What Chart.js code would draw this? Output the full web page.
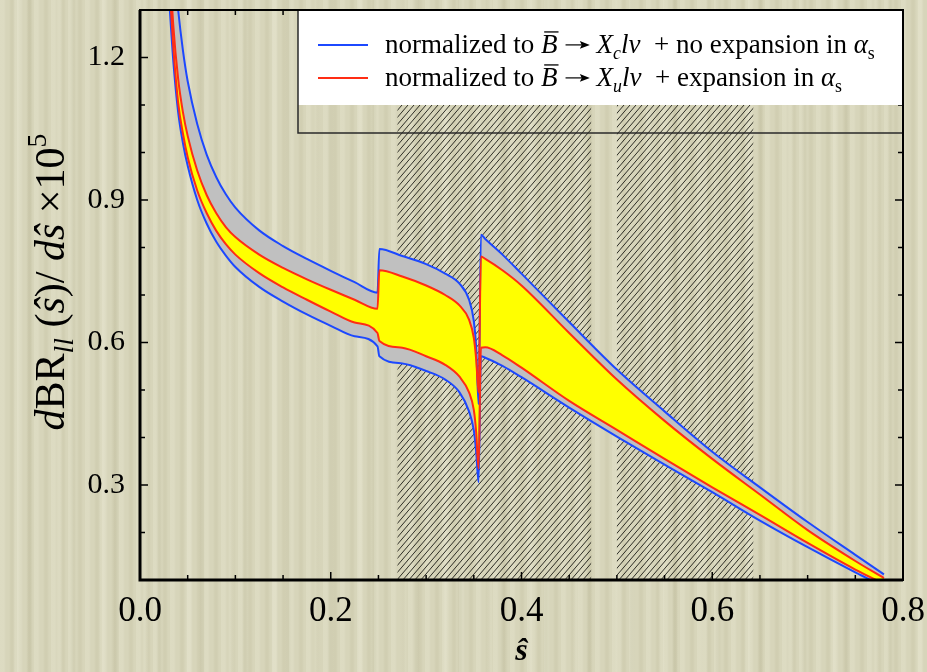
<!DOCTYPE html>
<html lang="en">
<head>
  <meta charset="UTF-8">
  <title>dBR_ll / ds</title>
  <script src="https://cdn.jsdelivr.net/npm/chart.js"></script>
  <style>
    html, body {
      margin: 0;
      padding: 0;
      overflow: hidden;
    }
    body {
      width: 927px;
      height: 672px;
      background-color: #d7d5ba;
      background-image:
        repeating-linear-gradient(90deg, rgba(255,255,240,0.14) 0px, rgba(255,255,240,0.14) 4px, rgba(0,0,0,0) 6px, rgba(0,0,0,0) 9px, rgba(110,100,50,0.06) 11px, rgba(110,100,50,0.06) 13px, rgba(0,0,0,0) 15px, rgba(0,0,0,0) 17px),
        repeating-linear-gradient(90deg, rgba(0,0,0,0) 0px, rgba(0,0,0,0) 13px, rgba(255,255,240,0.12) 15px, rgba(255,255,240,0.12) 18px, rgba(0,0,0,0) 20px, rgba(0,0,0,0) 27px, rgba(100,95,50,0.06) 29px, rgba(100,95,50,0.06) 31px, rgba(0,0,0,0) 33px, rgba(0,0,0,0) 43px);
    }
    canvas { display: block; }
  </style>
</head>
<body>
  <canvas id="chart" width="927" height="672"></canvas>

  <script>
    // s-hat grid shared by the four curves
    const sHat = [0.03, 0.035, 0.04, 0.045, 0.05, 0.06, 0.07, 0.08, 0.09, 0.1, 0.125, 0.15, 0.175, 0.2, 0.225, 0.249,
                  0.251, 0.275, 0.3, 0.32, 0.335, 0.345, 0.35, 0.3525, 0.355,
                  0.3575, 0.362, 0.38, 0.4, 0.45, 0.5, 0.55, 0.6, 0.65, 0.7, 0.75, 0.78];

    // normalized to B -> X_c l nu, no expansion in alpha_s (blue band)
    const blueUpper = [1.56, 1.41, 1.30, 1.215, 1.15, 1.06, 0.995, 0.948, 0.912, 0.884, 0.836, 0.803, 0.776, 0.751, 0.727, 0.705,
                       0.797, 0.782, 0.765, 0.745, 0.724, 0.69, 0.645, 0.59, 0.47,
                       0.827, 0.818, 0.785, 0.745, 0.643, 0.543, 0.455, 0.37, 0.295, 0.222, 0.153, 0.112];
    const blueLower = [1.34, 1.19, 1.085, 1.02, 0.972, 0.90, 0.85, 0.812, 0.783, 0.759, 0.717, 0.686, 0.659, 0.635, 0.613, 0.592,
                       0.571, 0.556, 0.54, 0.522, 0.495, 0.455, 0.415, 0.369, 0.306,
                       0.571, 0.568, 0.551, 0.527, 0.463, 0.402, 0.343, 0.285, 0.225, 0.169, 0.116, 0.086];

    // normalized to B -> X_u l nu, expansion in alpha_s (red band)
    const redUpper = [1.44, 1.265, 1.155, 1.085, 1.035, 0.962, 0.91, 0.872, 0.843, 0.822, 0.785, 0.757, 0.733, 0.711, 0.69, 0.671,
                      0.752, 0.739, 0.72, 0.70, 0.678, 0.648, 0.61, 0.564, 0.495,
                      0.781, 0.776, 0.752, 0.72, 0.62, 0.522, 0.435, 0.355, 0.28, 0.205, 0.14, 0.104];
    const redLower = [1.38, 1.22, 1.105, 1.04, 0.99, 0.92, 0.872, 0.835, 0.807, 0.785, 0.746, 0.716, 0.69, 0.665, 0.642, 0.620,
                      0.603, 0.589, 0.571, 0.553, 0.528, 0.495, 0.458, 0.411, 0.334,
                      0.589, 0.59, 0.573, 0.547, 0.477, 0.416, 0.355, 0.295, 0.237, 0.178, 0.122, 0.092];

    // hatched (vetoed) s-hat windows
    const vetoBands = [[0.27, 0.473], [0.5, 0.643]];

    const xTicks = [0.0, 0.2, 0.4, 0.6, 0.8];
    const yTicks = [0.3, 0.6, 0.9, 1.2];

    const BLUE = '#1c48ff';
    const RED = '#ff2d14';
    const SERIF = '"Liberation Serif", "Times New Roman", serif';

    const toPts = ys => sHat.map((s, i) => ({ x: s, y: ys[i] }));

    function hatchPattern(ctx) {
      const c = document.createElement('canvas');
      c.width = 6; c.height = 7;
      const g = c.getContext('2d');
      g.strokeStyle = '#1a1a14';
      g.lineWidth = 0.9;
      g.beginPath();
      g.moveTo(0, 7); g.lineTo(6, 0);
      g.moveTo(-1, 1.17); g.lineTo(1, -1.17);
      g.moveTo(5, 8.17); g.lineTo(7, 5.83);
      g.stroke();
      return ctx.createPattern(c, 'repeat');
    }

    // draws a run of text pieces (italic / sub / sup / overbar / arrow) from x, returns end x
    function drawRich(ctx, parts, x, y, size, measureOnly) {
      parts.forEach(p => {
        if (p.arrow) {
          const w = size * 1.45;
          if (!measureOnly) {
            const ay = y - size * 0.3;
            ctx.save();
            ctx.lineWidth = 1.2;
            ctx.beginPath();
            ctx.moveTo(x + size * 0.3, ay); ctx.lineTo(x + w - size * 0.5, ay);
            ctx.stroke();
            ctx.beginPath();
            ctx.moveTo(x + w - size * 0.25, ay);
            ctx.lineTo(x + w - size * 0.62, ay - size * 0.14);
            ctx.lineTo(x + w - size * 0.55, ay);
            ctx.lineTo(x + w - size * 0.62, ay + size * 0.14);
            ctx.closePath();
            ctx.fill();
            ctx.restore();
          }
          x += w;
          return;
        }
        const s = (p.sub || p.sup) ? size * 0.66 : size;
        ctx.font = (p.it ? 'italic ' : '') + s + 'px ' + SERIF;
        const dy = p.sub ? size * 0.22 : (p.sup ? -size * 0.42 : 0);
        const w = ctx.measureText(p.t).width;
        if (!measureOnly) {
          ctx.fillText(p.t, x, y + dy);
          if (p.bar) {
            ctx.save();
            ctx.lineWidth = 1.3;
            ctx.beginPath();
            ctx.moveTo(x + s * 0.12, y - s * 0.78);
            ctx.lineTo(x + w + s * 0.04, y - s * 0.78);
            ctx.stroke();
            ctx.restore();
          }
        }
        x += w;
      });
      return x;
    }

    const legendRows = [
      { color: BLUE, parts: [
        { t: 'normalized to ' }, { t: 'B', it: true, bar: true }, { arrow: true },
        { t: 'X', it: true }, { t: 'c', it: true, sub: true }, { t: 'l\u03bd', it: true },
        { t: '  + no expansion in ' }, { t: '\u03b1', it: true }, { t: 's', sub: true }] },
      { color: RED, parts: [
        { t: 'normalized to ' }, { t: 'B', it: true, bar: true }, { arrow: true },
        { t: 'X', it: true }, { t: 'u', it: true, sub: true }, { t: 'l\u03bd', it: true },
        { t: '  + expansion in ' }, { t: '\u03b1', it: true }, { t: 's', sub: true }] }
    ];

    const yTitle = [
      { t: 'd', it: true }, { t: 'BR' }, { t: 'll', it: true, sub: true }, { t: ' (' },
      { t: '\u015d', it: true }, { t: ')/ ' }, { t: 'd', it: true }, { t: '\u015d', it: true },
      { t: ' \u00d710' }, { t: '5', sup: true }
    ];

    const decor = {
      id: 'decor',
      beforeDraw(chart) {
        const { ctx, chartArea: a, scales: { x } } = chart;
        ctx.save();
        ctx.fillStyle = hatchPattern(ctx);
        vetoBands.forEach(([s0, s1]) => {
          const p0 = x.getPixelForValue(s0), p1 = x.getPixelForValue(s1);
          ctx.fillRect(p0, a.top, p1 - p0, a.bottom - a.top);
        });
        ctx.restore();
      },
      afterDatasetsDraw(chart) {
        const { ctx, chartArea: a, scales: { x, y } } = chart;
        ctx.save();
        ctx.strokeStyle = '#000';

        // inward ticks on all four sides
        ctx.lineWidth = 1.5;
        ctx.beginPath();
        for (let k = 0; k <= 16; k++) {
          const px = x.getPixelForValue(k * 0.05);
          const len = (k % 4 === 0) ? 8 : 5;
          ctx.moveTo(px, a.bottom); ctx.lineTo(px, a.bottom - len);
          ctx.moveTo(px, a.top); ctx.lineTo(px, a.top + len);
        }
        for (let k = 2; k <= 12; k++) {
          const py = y.getPixelForValue(k / 10);
          const len = (k % 3 === 0) ? 8 : 5;
          ctx.moveTo(a.left, py); ctx.lineTo(a.left + len, py);
          ctx.moveTo(a.right, py); ctx.lineTo(a.right - len, py);
        }
        ctx.stroke();

        // legend box
        const lx = a.left + 158, ly = a.top;
        ctx.fillStyle = '#ffffff';
        ctx.fillRect(lx, ly, a.right - lx, 95);
        ctx.lineWidth = 1.5;
        ctx.strokeStyle = '#2a2a2a';
        ctx.beginPath();
        ctx.moveTo(lx, ly); ctx.lineTo(lx, ly + 123); ctx.lineTo(a.right, ly + 123);
        ctx.stroke();

        legendRows.forEach((row, i) => {
          const cy = ly + 35 + i * 33;
          ctx.strokeStyle = row.color;
          ctx.lineWidth = 2;
          ctx.beginPath();
          ctx.moveTo(lx + 20, cy); ctx.lineTo(lx + 70, cy);
          ctx.stroke();
          ctx.fillStyle = '#000';
          ctx.strokeStyle = '#000';
          ctx.textBaseline = 'alphabetic';
          drawRich(ctx, row.parts, lx + 87, cy + 8, 27);
        });

        // frame
        ctx.strokeStyle = '#000';
        ctx.lineWidth = 2;
        ctx.strokeRect(a.left, a.top, a.right - a.left, a.bottom - a.top);
        ctx.lineWidth = 3;
        ctx.beginPath();
        ctx.moveTo(a.left, a.top); ctx.lineTo(a.left, a.bottom); ctx.lineTo(a.right, a.bottom);
        ctx.stroke();
        ctx.restore();
      },
      afterDraw(chart) {
        const { ctx, chartArea: a } = chart;
        ctx.save();
        ctx.fillStyle = '#000';
        ctx.textBaseline = 'alphabetic';

        // x title
        ctx.font = 'italic bold 32px ' + SERIF;
        ctx.textAlign = 'center';
        ctx.fillText('\u015d', (a.left + a.right) / 2, 660);

        // y title, rotated
        ctx.textAlign = 'left';
        ctx.translate(64, 282);
        ctx.rotate(-Math.PI / 2);
        const w = drawRich(ctx, yTitle, 0, 0, 42, true);
        drawRich(ctx, yTitle, -w / 2, 0, 42);
        ctx.restore();
      }
    };

    const line = (data, color, fill, bg) => ({
      data: toPts(data),
      borderColor: color,
      borderWidth: 2,
      backgroundColor: bg || 'transparent',
      fill: fill,
      pointRadius: 0,
      showLine: true,
      cubicInterpolationMode: 'monotone'
    });

    new Chart(document.getElementById('chart'), {
      type: 'scatter',
      data: {
        datasets: [
          line(redUpper, RED, '+1', '#ffff00'),
          line(redLower, RED, false),
          line(blueUpper, BLUE, '+1', '#c0c0c0'),
          line(blueLower, BLUE, false)
        ]
      },
      options: {
        responsive: false,
        animation: false,
        layout: { padding: { top: 10, right: 24, left: 0, bottom: 0 } },
        plugins: {
          legend: { display: false },
          tooltip: { enabled: false },
          filler: { drawTime: 'beforeDatasetsDraw' }
        },
        scales: {
          x: {
            type: 'linear',
            min: 0, max: 0.8,
            grid: { display: false, drawTicks: false },
            border: { display: false },
            afterBuildTicks: s => { s.ticks = xTicks.map(v => ({ value: v })); },
            afterFit: s => { s.height = 92; s.paddingLeft = 0; s.paddingRight = 0; },
            ticks: {
              padding: 11,
              color: '#000',
              font: { family: SERIF, size: 35 },
              callback: v => v.toFixed(1)
            }
          },
          y: {
            min: 0.1, max: 1.3,
            grid: { display: false, drawTicks: false },
            border: { display: false },
            afterBuildTicks: s => { s.ticks = yTicks.map(v => ({ value: v })); },
            afterFit: s => { s.width = 140; s.paddingTop = 0; s.paddingBottom = 0; },
            ticks: {
              padding: 15,
              color: '#000',
              font: { family: SERIF, size: 30 },
              callback: v => v.toFixed(1)
            }
          }
        }
      },
      plugins: [decor]
    });
  </script>
</body>
</html>
